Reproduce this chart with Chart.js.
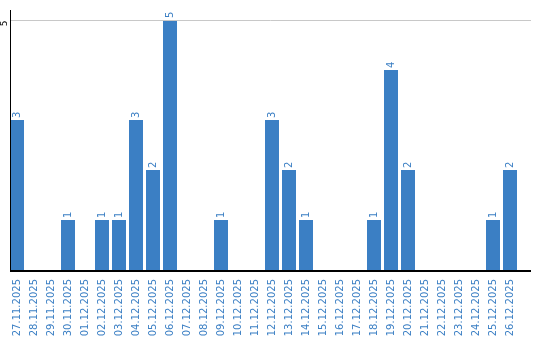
<!DOCTYPE html>
<html><head><meta charset="utf-8">
<script src="https://cdn.jsdelivr.net/npm/chart.js@4/dist/chart.umd.min.js"></script>
<style>html,body{margin:0;padding:0;background:#fff}#w{width:540px;height:340px}</style>
</head><body><div id="w"><canvas id="c"></canvas></div>
<script>
const categories = ["27.11.2025","28.11.2025","29.11.2025","30.11.2025","01.12.2025","02.12.2025","03.12.2025","04.12.2025","05.12.2025","06.12.2025","07.12.2025","08.12.2025","09.12.2025","10.12.2025","11.12.2025","12.12.2025","13.12.2025","14.12.2025","15.12.2025","16.12.2025","17.12.2025","18.12.2025","19.12.2025","20.12.2025","21.12.2025","22.12.2025","23.12.2025","24.12.2025","25.12.2025","26.12.2025"];
const values = [3,0,0,1,0,1,1,3,2,5,0,0,1,0,0,3,2,1,0,0,0,1,4,2,0,0,0,0,1,2];
const yTicks = [5];
const BLUE = '#3b7fc4';

const deco = {
  id: 'deco',
  afterDatasetsDraw(chart) {
    const {ctx, chartArea: a, scales: {x, y}} = chart;
    ctx.save();
    const axisX = 10.5, rightEnd = 531;
    yTicks.forEach(t => {
      const py = Math.round(y.getPixelForValue(t)) + 0.5;
      ctx.strokeStyle = '#c8c8c8'; ctx.lineWidth = 1;
      ctx.beginPath(); ctx.moveTo(axisX, py); ctx.lineTo(rightEnd, py); ctx.stroke();
      ctx.save();
      ctx.translate(5, py + 3);
      ctx.rotate(-Math.PI/2);
      ctx.fillStyle = '#000'; ctx.font = '9px "DejaVu Sans"';
      ctx.textAlign = 'center'; ctx.textBaseline = 'middle';
      ctx.fillText(String(t), 0, 0);
      ctx.restore();
    });
    ctx.strokeStyle = '#000'; ctx.lineWidth = 1;
    ctx.beginPath(); ctx.moveTo(axisX, a.top); ctx.lineTo(axisX, y.getPixelForValue(0)); ctx.stroke();
    const by = y.getPixelForValue(0);
    ctx.lineWidth = 2;
    ctx.beginPath(); ctx.moveTo(axisX - 0.5, by + 1); ctx.lineTo(rightEnd, by + 1); ctx.stroke();
    const meta = chart.getDatasetMeta(0);
    ctx.fillStyle = BLUE; ctx.font = '10px "DejaVu Sans"';
    meta.data.forEach((bar, i) => {
      const v = values[i];
      if (!v) return;
      ctx.save();
      ctx.translate(bar.x, bar.y - 2);
      ctx.rotate(-Math.PI/2);
      ctx.textAlign = 'left'; ctx.textBaseline = 'middle';
      ctx.fillText(String(v), 0, 0);
      ctx.restore();
    });
    ctx.restore();
  }
};

new Chart(document.getElementById('c'), {
  type: 'bar',
  data: { labels: categories, datasets: [{ data: values, backgroundColor: BLUE, barPercentage: 14/17, categoryPercentage: 1 }] },
  options: {
    responsive: true, maintainAspectRatio: false, animation: false,
    layout: { padding: { left: 8.5, right: 21.5, top: 10, bottom: 0 } },
    plugins: { legend: { display: false }, tooltip: { enabled: false } },
    scales: {
      x: {
        grid: { display: false }, border: { display: false },
        afterFit(scale) { scale.height = 70; },
        ticks: { color: BLUE, font: { family: 'DejaVu Sans', size: 10 }, minRotation: 90, maxRotation: 90, autoSkip: false, padding: 1 }
      },
      y: { display: false, min: 0, max: 5.2 }
    }
  },
  plugins: [deco]
});
</script></body></html>
